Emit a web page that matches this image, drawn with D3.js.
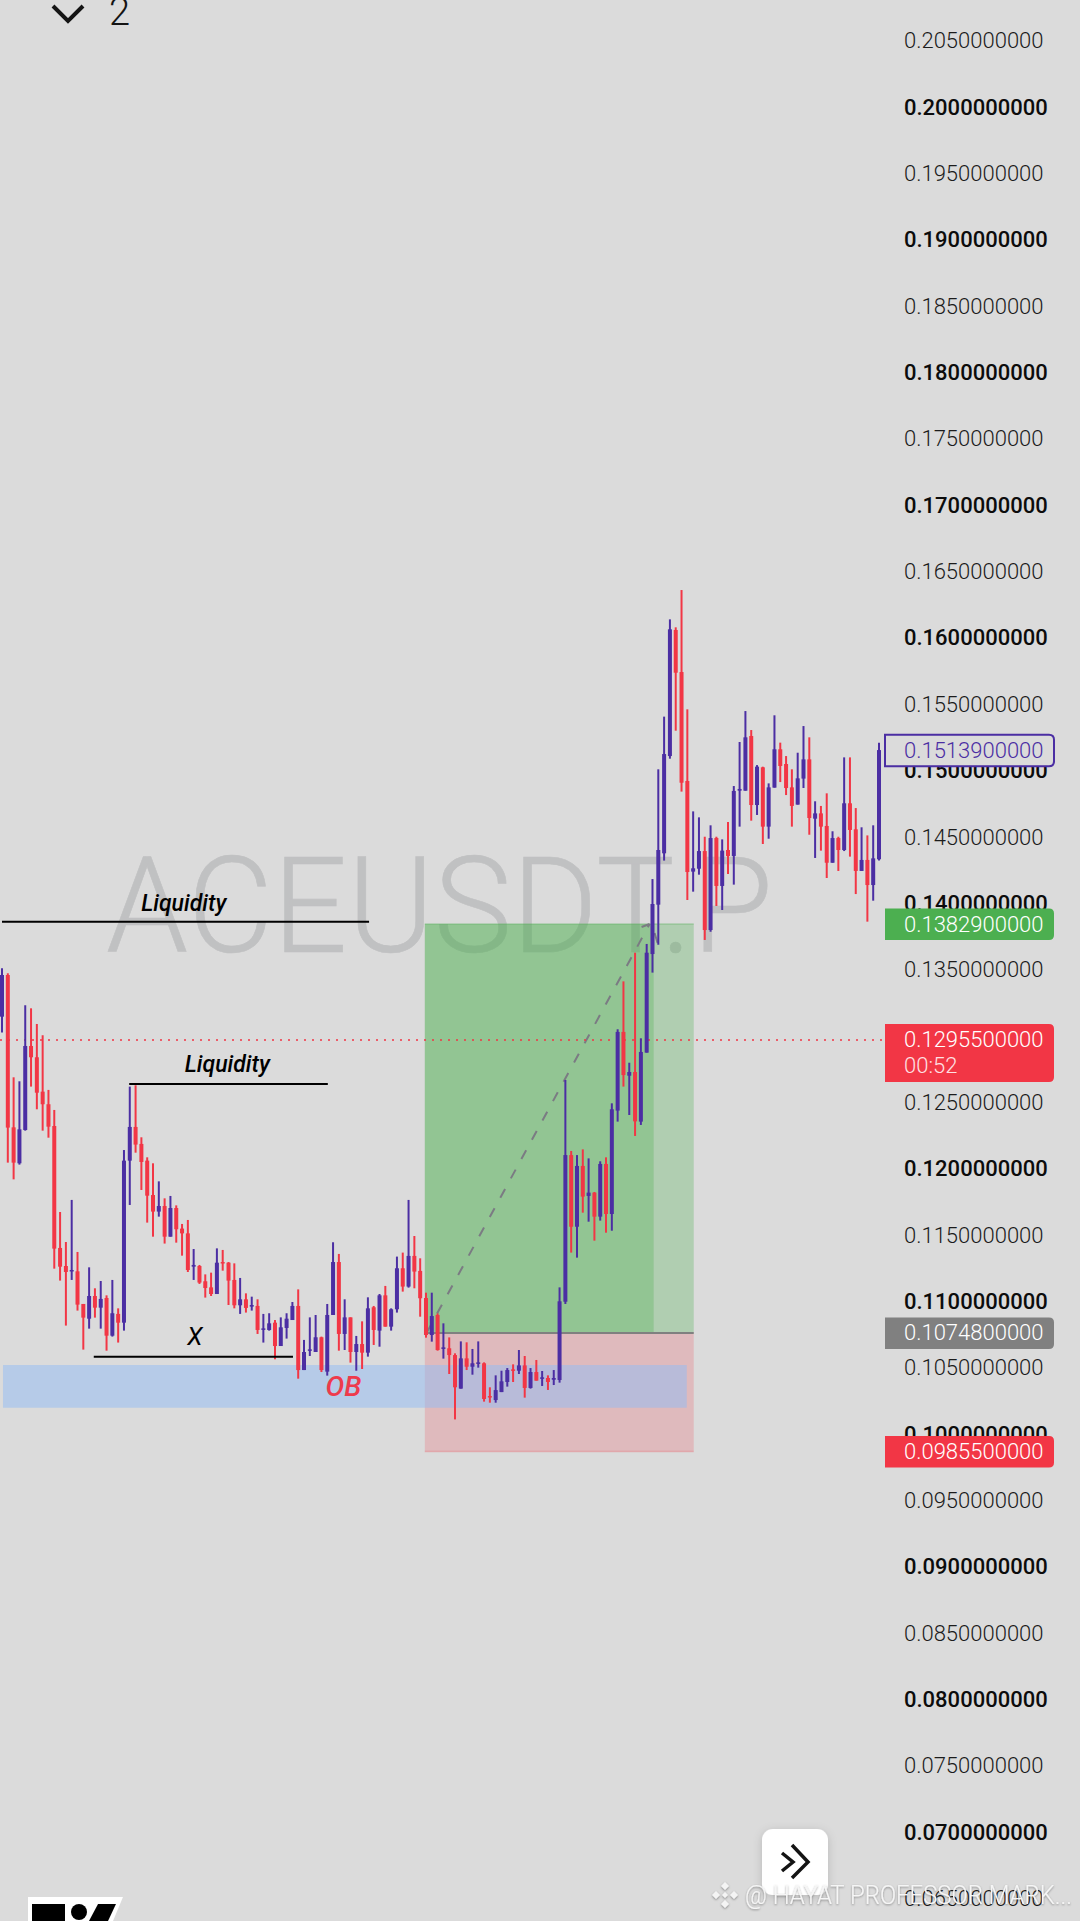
<!DOCTYPE html>
<html><head><meta charset="utf-8">
<script src="https://cdnjs.cloudflare.com/ajax/libs/d3/7.8.5/d3.min.js"></script>
<style>
html,body{margin:0;padding:0;background:#dbdbdb;overflow:hidden}
svg{display:block}
text{font-family:Roboto,sans-serif}
</style></head><body>
<script>
// prices are listed in units of 0.00001
const PRICE_UNIT = 1e-5;
const opens = [13131,13445,12297,12026,12277,12910,12825,12566,12471,12307,
11388,11252,11212,11212,10966,10855,11026,10938,11011,10727,
10891,10825,12046,12300,12172,12046,11787,11662,11704,11473,
11689,11534,11498,11247,11252,11137,11091,11041,11282,11277,
11147,10956,11001,10946,10951,10775,10770,10825,10649,10785,
10845,10951,10468,10614,10604,10715,10456,10883,11282,10740,
10865,10604,10664,10599,10941,10765,11031,10795,10926,11235,
11097,11328,11215,11011,10732,10883,10627,10632,10581,10328,
10556,10493,10514,10519,10272,10242,10302,10378,10473,10463,
10503,10333,10453,10403,10408,10395,10393,10983,12088,11548,
12006,11780,11805,11624,12021,11644,12423,13016,12686,12714,
12340,12860,13603,13975,14362,15095,16045,15728,14907,14224,
14246,14379,13784,14477,14116,14387,14342,14834,14834,15246,
14726,15010,14563,14857,15146,15035,14859,14729,14925,15070,
14623,14663,14568,14291,14477,14387,14739,14543,14229,14312,
14123,14317];
const closes = [13445,12295,12031,12282,12910,12825,12558,12471,12302,11383,
11247,11207,11222,10961,10863,11026,10938,11004,10727,10896,
10825,12046,12300,12167,12036,11782,11662,11704,11473,11689,
11529,11498,11222,11260,11127,11086,11041,11277,11272,11142,
10956,11001,10936,10958,10770,10782,10820,10649,10790,10855,
10951,10468,10604,10624,10715,10468,10883,11282,10740,10865,
10604,10664,10599,10933,10770,11031,10795,10926,11235,11097,
11328,11210,11009,10732,10875,10619,10639,10581,10338,10556,
10493,10519,10526,10250,10262,10317,10383,10468,10463,10503,
10333,10453,10388,10413,10378,10408,10986,12088,11548,12006,
11775,11805,11624,12021,11644,12433,13016,12691,12714,12342,
12865,13613,13980,14387,15110,16050,15723,14894,14221,14249,
14379,13784,14477,14116,14382,14342,14832,14847,15236,14726,
15015,14563,14859,15146,15020,14854,14719,14927,15070,14628,
14663,14563,14291,14477,14387,14739,14538,14229,14312,14123,
14324,15140];
const highs = [13495,13458,12674,12644,13217,13194,13076,12991,12579,12428,
11659,11433,11750,11358,10966,11242,11084,11139,11031,11147,
10933,12126,12604,12614,12222,12071,12026,11890,11762,11780,
11709,11569,11599,11380,11260,11189,11202,11385,11373,11282,
11272,11162,11046,11021,11001,10891,10896,10845,10865,10896,
10981,11076,10695,10865,10883,10720,10966,11431,11343,11001,
10865,10725,10835,11016,10951,11041,11102,10933,11323,11353,
11750,11478,11310,11051,11051,10895,10820,10714,10594,10684,
10677,10627,10684,10526,10338,10428,10463,10483,10511,10619,
10574,10483,10544,10461,10428,10468,11091,12654,12119,12088,
12131,12063,11810,12041,12071,12478,13036,13397,12784,13613,
12968,13679,14168,14995,15392,16125,16065,16346,15447,14678,
14633,14487,14573,14487,14467,14598,14869,15201,15434,15291,
15027,15015,14889,15402,15196,15095,14995,15120,15321,15236,
14754,14719,14814,14528,14487,15085,15085,14703,14558,14497,
14573,15196];
const lows = [13011,12031,11905,12016,12272,12604,12433,12272,12219,11232,
11142,10803,11147,10916,10622,10780,10863,10780,10614,10720,
10675,10765,11712,12106,11825,11579,11473,11624,11421,11473,
11428,11330,11207,11147,11117,11014,11026,11041,11217,10958,
10933,10891,10901,10916,10740,10675,10765,10549,10649,10705,
10845,10403,10468,10574,10604,10453,10426,10883,10614,10619,
10524,10463,10476,10569,10657,10644,10795,10765,10901,11059,
11089,11084,10870,10712,10682,10614,10554,10438,10096,10328,
10468,10433,10486,10230,10222,10222,10302,10343,10378,10438,
10260,10328,10388,10348,10318,10355,10373,10966,11353,11315,
11654,11586,11443,11594,11503,11518,12340,12604,12390,12232,
12315,12860,13463,13673,14307,15075,15286,14827,14010,14073,
14201,13709,13771,13965,13935,14206,14126,14563,14834,14608,
14651,14432,14472,14857,14899,14801,14563,14729,14854,14502,
14327,14382,14176,14291,14229,14379,14337,14055,14229,13847,
14005,14307];

const tickValues = d3.range(15).map(i => 0.205 - i*0.01).concat(d3.range(14).map(i => 0.2 - i*0.01));
const entryPrice = 0.10748, targetPrice = 0.13829, stopPrice = 0.09855, lastPrice = 0.12955, highPrice = 0.15139;
const timerText = "00:52";
const positionBars = [72.8, 112.2, 119.1];
const orderBlock = {barFrom:0.17, barTo:117.9, hi:0.10506, lo:0.10184};
const tradeLine = {barFrom:73.1, barTo:111.5};
const liquidityLines = [
 {price:0.13847, barFrom:0, barTo:63.2, label:"Liquidity", labelBar:31.3, labelPrice:0.13930},
 {price:0.12624, barFrom:21.9, barTo:56.1, label:"Liquidity", labelBar:38.8, labelPrice:0.12716},
 {price:0.10569, barFrom:15.8, barTo:50.1, label:"X", labelBar:33.2, labelPrice:0.10657}
];
const symbolName = "ACEUSDT.P";
const credit = "@ HAYAT PROFESSOR MARK...";

const W = 1080, H = 1921;
const RED = "#f23645", PURPLE = "#4b2ea3", GREEN = "#4caf50";
const x = d3.scaleLinear().domain([0,151]).range([2,879]);
const y = d3.scaleLinear().domain([0.205,0.065]).range([38.8,1896.6]);

const svg = d3.select("body").append("svg").attr("width",W).attr("height",H);
const defs = svg.append("defs");
const f = defs.append("filter").attr("id","sh").attr("x","-30%").attr("y","-30%").attr("width","160%").attr("height","160%");
f.append("feDropShadow").attr("dx",0).attr("dy",2).attr("stdDeviation",5).attr("flood-color","#000").attr("flood-opacity",0.16);
const f2 = defs.append("filter").attr("id","ts").attr("x","-5%").attr("y","-30%").attr("width","110%").attr("height","160%");
f2.append("feDropShadow").attr("dx",0).attr("dy",1).attr("stdDeviation",1.2).attr("flood-color","#000").attr("flood-opacity",0.4);

svg.append("rect").attr("width",W).attr("height",H).attr("fill","#dbdbdb");

// symbol watermark
svg.append("text").attr("x",106).attr("y",952).attr("font-size",133).attr("font-weight",300)
  .attr("fill","#c0c1c2").attr("stroke","#c0c1c2").attr("stroke-width",0.6)
  .attr("textLength",667).attr("lengthAdjust","spacingAndGlyphs").text(symbolName);

// position tool
svg.append("rect").attr("x",x(positionBars[0])).attr("width",x(positionBars[2])-x(positionBars[0]))
  .attr("y",y(targetPrice)).attr("height",y(entryPrice)-y(targetPrice)).attr("fill","rgba(76,175,80,.3)");
svg.append("rect").attr("x",x(positionBars[0])).attr("width",x(positionBars[1])-x(positionBars[0]))
  .attr("y",y(targetPrice)).attr("height",y(entryPrice)-y(targetPrice)).attr("fill","rgba(76,175,80,.3)");
svg.append("rect").attr("x",x(positionBars[0])).attr("width",x(positionBars[2])-x(positionBars[0]))
  .attr("y",y(entryPrice)).attr("height",y(stopPrice)-y(entryPrice)).attr("fill","rgba(242,54,69,.2)");
svg.append("line").attr("x1",x(positionBars[0])).attr("x2",x(positionBars[2])).attr("y1",y(targetPrice)).attr("y2",y(targetPrice))
  .attr("stroke","rgba(76,175,80,.35)").attr("stroke-width",1.5);
svg.append("line").attr("x1",x(positionBars[0])).attr("x2",x(positionBars[2])).attr("y1",y(stopPrice)).attr("y2",y(stopPrice))
  .attr("stroke","rgba(242,54,69,.25)").attr("stroke-width",1.5);

// order block
svg.append("rect").attr("x",x(orderBlock.barFrom)).attr("width",x(orderBlock.barTo)-x(orderBlock.barFrom))
  .attr("y",y(orderBlock.hi)).attr("height",y(orderBlock.lo)-y(orderBlock.hi)).attr("fill","rgba(145,187,245,.5)");

// entry line
svg.append("line").attr("x1",x(positionBars[0])).attr("x2",x(positionBars[2])).attr("y1",y(entryPrice)).attr("y2",y(entryPrice))
  .attr("stroke","#808080").attr("stroke-width",2);

// trade path, dashed with its arrow
const tradeG = svg.append("g").attr("stroke","#7b7b83").attr("stroke-width",2).attr("fill","none");
tradeG.append("line").attr("x1",x(tradeLine.barFrom)).attr("y1",y(entryPrice)).attr("x2",x(tradeLine.barTo)).attr("y2",y(targetPrice))
  .attr("stroke-dasharray","10 12");
const ax = x(tradeLine.barTo), ay = y(targetPrice);
tradeG.append("path").attr("d",`M${ax-8},${ay+3}L${ax},${ay}M${ax+5},${ay+9}L${ax+8},${ay+19}`);

// current price line
svg.append("line").attr("x1",0).attr("x2",884).attr("y1",y(lastPrice)).attr("y2",y(lastPrice))
  .attr("stroke",RED).attr("stroke-width",1.5).attr("stroke-dasharray","2 6");

// candles
const idx = d3.range(opens.length);
const candleColor = i => closes[i] >= opens[i] ? PURPLE : RED;
svg.append("g").selectAll("line").data(idx).join("line")
  .attr("x1",i=>x(i)).attr("x2",i=>x(i))
  .attr("y1",i=>y(highs[i]*PRICE_UNIT)).attr("y2",i=>y(lows[i]*PRICE_UNIT))
  .attr("stroke",candleColor).attr("stroke-width",2);
svg.append("g").selectAll("rect").data(idx).join("rect")
  .attr("x",i=>x(i)-2).attr("width",4)
  .attr("y",i=>y(Math.max(opens[i],closes[i])*PRICE_UNIT))
  .attr("height",i=>Math.max(1.5,Math.abs(y(opens[i]*PRICE_UNIT)-y(closes[i]*PRICE_UNIT))))
  .attr("fill",candleColor);

// annotation lines
liquidityLines.forEach(d=>{
  svg.append("line").attr("x1",x(d.barFrom)).attr("x2",x(d.barTo)).attr("y1",y(d.price)).attr("y2",y(d.price))
    .attr("stroke","#000").attr("stroke-width",2);
  svg.append("text").attr("x",x(d.labelBar)).attr("y",y(d.labelPrice)).attr("text-anchor","middle")
    .attr("font-size",d.label==="X"?25:23).attr("font-weight",d.label==="X"?400:500).attr("font-style","italic").attr("fill","#000").text(d.label);
});
svg.append("text").attr("x",x(58.8)).attr("y",y(0.1027)).attr("text-anchor","middle").attr("font-size",28)
  .attr("font-weight",500).attr("font-style","italic").attr("fill","#ee3a4c").text("OB");

// price axis
const axisG = svg.append("g").attr("transform","translate(904,2)")
  .call(d3.axisRight(y).tickValues(tickValues).tickSize(0).tickPadding(0).tickFormat(d3.format(".10f")));
axisG.select(".domain").remove();
axisG.selectAll("text")
  .attr("font-family","Roboto,sans-serif").attr("font-size",22)
  .attr("font-weight",d=>Math.abs(d*100-Math.round(d*100))<1e-6?500:300)
  .attr("fill",d=>Math.abs(d*100-Math.round(d*100))<1e-6?"#0c0c0c":"#1c1c1c");

// price labels
function labelPath(y0,h){const x0=885,w=169,r=5;
  return `M${x0},${y0}H${x0+w-r}Q${x0+w},${y0} ${x0+w},${y0+r}V${y0+h-r}Q${x0+w},${y0+h} ${x0+w-r},${y0+h}H${x0}Z`;}
function priceLabel(v,fill,textFill,stroke){
  const c=y(v);
  svg.append("path").attr("d",labelPath(c-15.5,31.5)).attr("fill",fill).attr("stroke",stroke||"none").attr("stroke-width",stroke?2:0);
  svg.append("text").attr("x",904).attr("y",c+7.5).attr("font-size",22).attr("font-weight",300).attr("fill",textFill).text(d3.format(".10f")(v));
}
priceLabel(highPrice,"#dbdbdb",PURPLE,PURPLE);
priceLabel(targetPrice,GREEN,"#fff");
const c0=y(lastPrice);
svg.append("path").attr("d",labelPath(c0-16,58)).attr("fill",RED);
svg.append("text").attr("x",904).attr("y",c0+6.5).attr("font-size",22).attr("font-weight",300).attr("fill","#fff").text(d3.format(".10f")(lastPrice));
svg.append("text").attr("x",904).attr("y",c0+32.5).attr("font-size",22).attr("font-weight",300).attr("fill","#ffe0e3").text(timerText);
priceLabel(entryPrice,"#808080","#fff");
priceLabel(stopPrice,RED,"#fff");

// top chevron and count
svg.append("path").attr("d","M53,6L68,21L83,6").attr("fill","none").attr("stroke","#141414").attr("stroke-width",4);
svg.append("text").attr("x",109).attr("y",25).attr("font-size",38).attr("font-weight",300).attr("fill","#141414").text("2");

// scroll button
svg.append("rect").attr("x",762).attr("y",1829).attr("width",66).attr("height",66).attr("rx",11).attr("fill","#fff").attr("filter","url(#sh)");
svg.append("path").attr("d","M782,1853L793,1862L782,1871M792,1845L808,1862L792,1878").attr("fill","none").attr("stroke","#141414").attr("stroke-width",3.5);

// logo
svg.append("path").attr("d","M28,1897H123L113,1921H28Z").attr("fill","#fff");
svg.append("path").attr("d","M32,1904H65V1921H48V1921H32Z").attr("fill","#000");
svg.append("circle").attr("cx",79).attr("cy",1912).attr("r",8).attr("fill","#000");
svg.append("path").attr("d","M98,1904H116L108,1921H89Z").attr("fill","#000");

// credit
const cg = svg.append("g").attr("filter","url(#ts)");
const bx=725, by=1895;
[[0,-9],[0,9],[-9,0],[9,0]].forEach(([dx,dy])=>{
  cg.append("path").attr("d",`M${bx+dx},${by+dy-4}L${bx+dx+4},${by+dy}L${bx+dx},${by+dy+4}L${bx+dx-4},${by+dy}Z`).attr("fill","#f4f4f4");
});
cg.append("path").attr("d",`M${bx},${by-3}L${bx+3},${by}L${bx},${by+3}L${bx-3},${by}Z`).attr("fill","#f4f4f4");
cg.append("text").attr("x",745).attr("y",by+9).attr("font-size",25).attr("font-weight",300).attr("fill","#f6f6f6")
  .attr("textLength",327).attr("lengthAdjust","spacingAndGlyphs").text(credit);
</script>
</body></html>
